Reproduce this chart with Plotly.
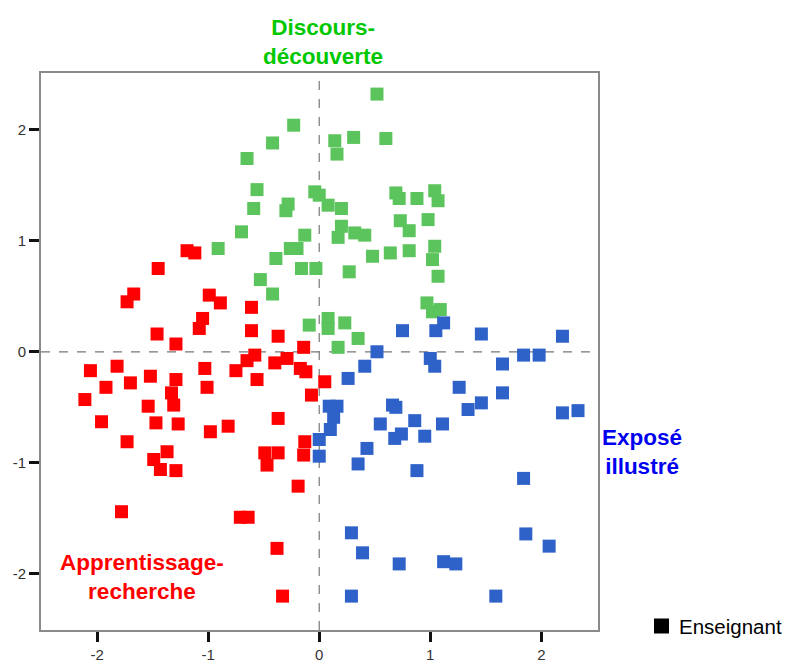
import plotly.graph_objects as go

# Data
red_x = [-1.19, -1.12, -1.45, -1.67, -1.73, -0.99, -0.89, -0.61, -1.05, -1.08, -1.46, -0.61, -0.37, -1.29, -0.14,
         -2.06, -1.82, -1.92, -2.11, -1.70, -1.52, -1.29, -1.33, -1.31, -1.54, -1.96, -1.47, -1.27, -1.73,
         -1.03, -1.01, -0.75, -0.65, -0.58, -0.56, -0.40, -0.29, -0.17, -0.12, -0.07, 0.05, -0.37, -0.98,
         -0.82, -1.37, -1.49, -1.43, -1.29, -0.49, -0.37, -0.47, -0.13, -0.14, -0.19, -1.78, -0.71, -0.64,
         -0.38, -0.33]
red_y = [0.91, 0.89, 0.75, 0.52, 0.45, 0.51, 0.44, 0.40, 0.30, 0.21, 0.16, 0.19, 0.14, 0.07, 0.04,
         -0.17, -0.13, -0.32, -0.43, -0.28, -0.22, -0.25, -0.37, -0.48, -0.49, -0.63, -0.64, -0.65, -0.81,
         -0.15, -0.32, -0.17, -0.08, -0.03, -0.25, -0.10, -0.06, -0.15, -0.18, -0.39, -0.27, -0.60, -0.72,
         -0.67, -0.90, -0.97, -1.06, -1.07, -0.91, -0.91, -1.02, -0.81, -0.93, -1.21, -1.44, -1.49, -1.49,
         -1.77, -2.20]

green_x = [-0.23, -0.42, -0.65, -0.56, -0.59, -0.28, -0.30, -0.04, 0.00, -0.70, -0.91, -0.13, -0.26, -0.20,
           -0.39, -0.16, -0.03, -0.53, -0.42, -0.09,
           0.52, 0.31, 0.60, 0.14, 0.16, 0.08, 0.20, 0.69, 0.72, 0.88, 1.04, 1.07, 0.20, 0.17, 0.32, 0.41,
           0.73, 0.81, 0.98, 0.48, 0.64, 0.81, 1.04, 1.02, 1.07, 0.27, 0.97, 1.02, 1.09, 0.08, 0.08, 0.23,
           0.35, 0.17]
green_y = [2.04, 1.88, 1.74, 1.46, 1.29, 1.33, 1.27, 1.44, 1.41, 1.08, 0.93, 1.05, 0.93, 0.93,
           0.84, 0.75, 0.75, 0.65, 0.52, 0.24,
           2.32, 1.93, 1.92, 1.90, 1.78, 1.32, 1.29, 1.43, 1.38, 1.38, 1.45, 1.36, 1.13, 1.03, 1.07, 1.05,
           1.18, 1.09, 1.19, 0.86, 0.89, 0.91, 0.95, 0.83, 0.68, 0.72, 0.44, 0.36, 0.38, 0.30, 0.21, 0.26,
           0.12, 0.04]

blue_x = [0.75, 1.05, 1.12, 1.46, 2.19, 0.52, 1.00, 1.04, 1.65, 1.84, 1.98, 0.41, 0.26, 1.26, 1.65, 1.46,
          1.34, 0.66, 0.69, 0.09, 0.16, 0.13, 0.10, 0.55, 0.86, 1.11, 0.68, 0.74, 0.95, 2.19, 2.33, 0.00,
          0.00, 0.43, 0.35, 0.88, 1.84, 0.29, 0.39, 0.72, 1.12, 1.23, 1.86, 2.07, 0.29, 1.59]
blue_y = [0.19, 0.19, 0.26, 0.16, 0.14, 0.00, -0.06, -0.13, -0.11, -0.03, -0.03, -0.13, -0.24, -0.32, -0.37,
          -0.46, -0.52, -0.48, -0.50, -0.49, -0.49, -0.59, -0.70, -0.65, -0.62, -0.65, -0.78, -0.74, -0.76,
          -0.55, -0.53, -0.79, -0.94, -0.87, -1.01, -1.07, -1.14, -1.63, -1.81, -1.91, -1.89, -1.91, -1.64,
          -1.75, -2.20, -2.20]

tick_vals = [-2, -1, 0, 1, 2]
tick_text = ["-2", "-1", "0", "1", "2"]

group_labels = ["Discours-<br>découverte", "Exposé<br>illustré", "Apprentissage-<br>recherche"]
legend_name = "Enseignant"

RED = "#FF0000"
GREEN = "#5CC45C"
BLUE = "#2E62C9"
FONT = "Liberation Sans, Arial, sans-serif"

fig = go.Figure()
for xs, ys, col in [(red_x, red_y, RED), (green_x, green_y, GREEN), (blue_x, blue_y, BLUE)]:
    fig.add_trace(go.Scatter(x=xs, y=ys, mode="markers", showlegend=False, hoverinfo="x+y",
                             marker=dict(symbol="square", size=13, color=col, line=dict(width=0))))

axis_common = dict(range=[-2.505, 2.51], tickmode="array", tickvals=tick_vals, ticktext=tick_text,
                   ticks="outside", ticklen=10, tickwidth=3, tickcolor="#111111",
                   showgrid=False, zeroline=False, showline=True, mirror=True,
                   linecolor="#8a8a8a", linewidth=2, automargin=False,
                   tickfont=dict(family=FONT, size=15, color="#333333"))

# page body adds an 8 px offset; plot area targets screen px 41..598 x 73..630
PW = 557.0
def px_x(p):
    return (p - 41) / PW
def px_y(p):
    return (630 - p) / PW

fig.update_layout(
    width=790, height=656,
    margin=dict(l=33, r=200, t=65, b=34, autoexpand=False),
    paper_bgcolor="white", plot_bgcolor="white",
    xaxis=dict(**axis_common),
    yaxis=dict(**axis_common),
    showlegend=False,
    shapes=[
        dict(type="line", xref="x", yref="paper", x0=0, x1=0, y0=0, y1=1,
             line=dict(color="#777777", width=1.2, dash="dash"), layer="below"),
        dict(type="line", xref="paper", yref="y", x0=0, x1=1, y0=0, y1=0,
             line=dict(color="#777777", width=1.2, dash="dash"), layer="below"),
        dict(type="rect", xref="paper", yref="paper", x0=px_x(654), x1=px_x(669),
             y0=px_y(633.5), y1=px_y(618.5), fillcolor="black", line=dict(width=0)),
    ],
    annotations=[
        dict(text="<b>" + group_labels[0] + "</b>", xref="paper", yref="paper", x=px_x(323.4), y=px_y(42),
             xanchor="center", yanchor="middle", showarrow=False,
             font=dict(family=FONT, size=22.5, color="#00C800")),
        dict(text="<b>" + group_labels[1] + "</b>", xref="paper", yref="paper", x=px_x(642), y=px_y(452),
             xanchor="center", yanchor="middle", showarrow=False,
             font=dict(family=FONT, size=22.5, color="#0000F0")),
        dict(text="<b>" + group_labels[2] + "</b>", xref="paper", yref="paper", x=px_x(142), y=px_y(577),
             xanchor="center", yanchor="middle", showarrow=False,
             font=dict(family=FONT, size=22.5, color="#FF0000")),
        dict(text=legend_name, xref="paper", yref="paper", x=px_x(677), y=px_y(626),
             xanchor="left", yanchor="middle", showarrow=False,
             font=dict(family=FONT, size=20.5, color="black")),
    ],
)

fig.write_html("out.html")
